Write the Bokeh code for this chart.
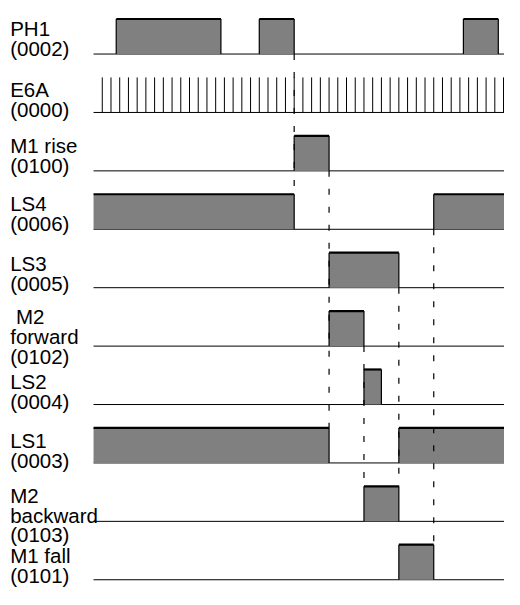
from bokeh.plotting import figure
from bokeh.models import Range1d
from bokeh.core.properties import value
from bokeh.embed import file_html
from bokeh.resources import INLINE

# ---------------- data (time in cycle units) ----------------
signal_names = ["PH1", "E6A", "M1 rise", "LS4", "LS3", "M2 forward", "LS2", "LS1", "M2 backward", "M1 fall"]
label_lines = [["PH1", "(0002)"], ["E6A", "(0000)"], ["M1 rise", "(0100)"], ["LS4", "(0006)"],
               ["LS3", "(0005)"], ["M2", "forward", "(0102)"], ["LS2", "(0004)"], ["LS1", "(0003)"],
               ["M2", "backward", "(0103)"], ["M1 fall", "(0101)"]]

t_start = -5.75
t_end = 6.1

ph1_on = [-5.1, -1.0, 4.85]
ph1_off = [-2.1, 0.0, 5.85]
e6a_pulses = [-5.5, -5.25, -5.0, -4.75, -4.5, -4.25, -4.0, -3.75, -3.5, -3.25, -3.0, -2.75,
              -2.5, -2.25, -2.0, -1.75, -1.5, -1.25, -1.0, -0.75, -0.5, -0.25, 0.0, 0.25,
              0.5, 0.75, 1.0, 1.25, 1.5, 1.75, 2.0, 2.25, 2.5, 2.75, 3.0, 3.25, 3.5, 3.75,
              4.0, 4.25, 4.5, 4.75, 5.0, 5.25, 5.5, 5.75, 6.0]
m1_rise_on = [0.0]
m1_rise_off = [1.0]
ls4_on = [-5.75, 4.0]
ls4_off = [0.0, 6.1]
ls3_on = [1.0]
ls3_off = [3.0]
m2_fwd_on = [1.0]
m2_fwd_off = [2.0]
ls2_on = [2.0]
ls2_off = [2.5]
ls1_on = [-5.75, 3.0]
ls1_off = [1.0, 6.1]
m2_bwd_on = [2.0]
m2_bwd_off = [3.0]
m1_fall_on = [3.0]
m1_fall_off = [4.0]

# dashed guide lines: time, from row (baseline), to row (pulse top)
guide_t = [0.0, 1.0, 2.0, 3.0, 4.0]
guide_from_row = [0, 2, 5, 4, 3]
guide_to_row = [3, 7, 8, 8, 9]

pulses = {0: (ph1_on, ph1_off), 2: (m1_rise_on, m1_rise_off), 3: (ls4_on, ls4_off),
          4: (ls3_on, ls3_off), 5: (m2_fwd_on, m2_fwd_off), 6: (ls2_on, ls2_off),
          7: (ls1_on, ls1_off), 8: (m2_bwd_on, m2_bwd_off), 9: (m1_fall_on, m1_fall_off)}

# ---------------- layout ----------------
W, H = 504, 589
REF_W, REF_H = 520, 605     # design space
PX_PER_T = 36.0
PX_PER_ROW = 60.0
T0_PX = 303
ROW0_PX = 55
HIGH = 0.6

def tx(px):
    return (px - T0_PX) / PX_PER_T

def ty(py):
    return (ROW0_PX - py) / PX_PER_ROW

p = figure(width=W, height=H, output_backend="svg", toolbar_location=None,
           x_range=Range1d(tx(0), tx(REF_W)), y_range=Range1d(ty(REF_H), ty(0)), min_border=0)
p.axis.visible = False
p.grid.visible = False
p.outline_line_color = None
p.background_fill_color = "white"

def base(i):
    return -float(i)

n = len(signal_names)
p.segment(x0=[t_start] * n, y0=[base(i) for i in range(n)], x1=[t_end] * n,
          y1=[base(i) for i in range(n)], line_color="black", line_width=1)

ql, qr, qb, qt = [], [], [], []
ex, ey0, ey1 = [], [], []
tx0, tx1, tyy = [], [], []
for i, (ons, offs) in pulses.items():
    for a, b in zip(ons, offs):
        ql.append(a); qr.append(b); qb.append(base(i)); qt.append(base(i) + HIGH)
        tx0.append(a); tx1.append(b); tyy.append(base(i) + HIGH)
        if a > t_start:
            ex.append(a); ey0.append(base(i)); ey1.append(base(i) + HIGH)
        if b < t_end:
            ex.append(b); ey0.append(base(i)); ey1.append(base(i) + HIGH)
p.quad(left=ql, right=qr, bottom=qb, top=qt, fill_color="#808080", line_color=None)
p.segment(x0=ex, y0=ey0, x1=ex, y1=ey1, line_color="black", line_width=1.2)
p.segment(x0=tx0, y0=tyy, x1=tx1, y1=tyy, line_color="black", line_width=2.2)

p.segment(x0=e6a_pulses, y0=[base(1)] * len(e6a_pulses), x1=e6a_pulses,
          y1=[base(1) + HIGH] * len(e6a_pulses), line_color="black", line_width=1)

p.segment(x0=guide_t, y0=[base(r) for r in guide_from_row], x1=guide_t,
          y1=[base(r) + HIGH for r in guide_to_row], line_color="black", line_width=1.2,
          line_dash="6 12")

# labels (baselines in design pixels)
first_base_px = [29, 91, 149, 209, 270, 325, 391, 452, 508, 570]
line_gap_px = 20.5
lx, ly, lt = [], [], []
for i, lines in enumerate(label_lines):
    for k, s in enumerate(lines):
        px_x = 16 if (i == 5 and k == 0) else 10
        lx.append(tx(px_x))
        ly.append(ty(first_base_px[i] + k * line_gap_px))
        lt.append(s)
p.text(x=lx, y=ly, text=lt, text_font=value("Liberation Sans"), text_font_size="20.5px",
       text_color="black", text_baseline="alphabetic", text_align="left")

open("out.html", "w").write(file_html(p, INLINE))
